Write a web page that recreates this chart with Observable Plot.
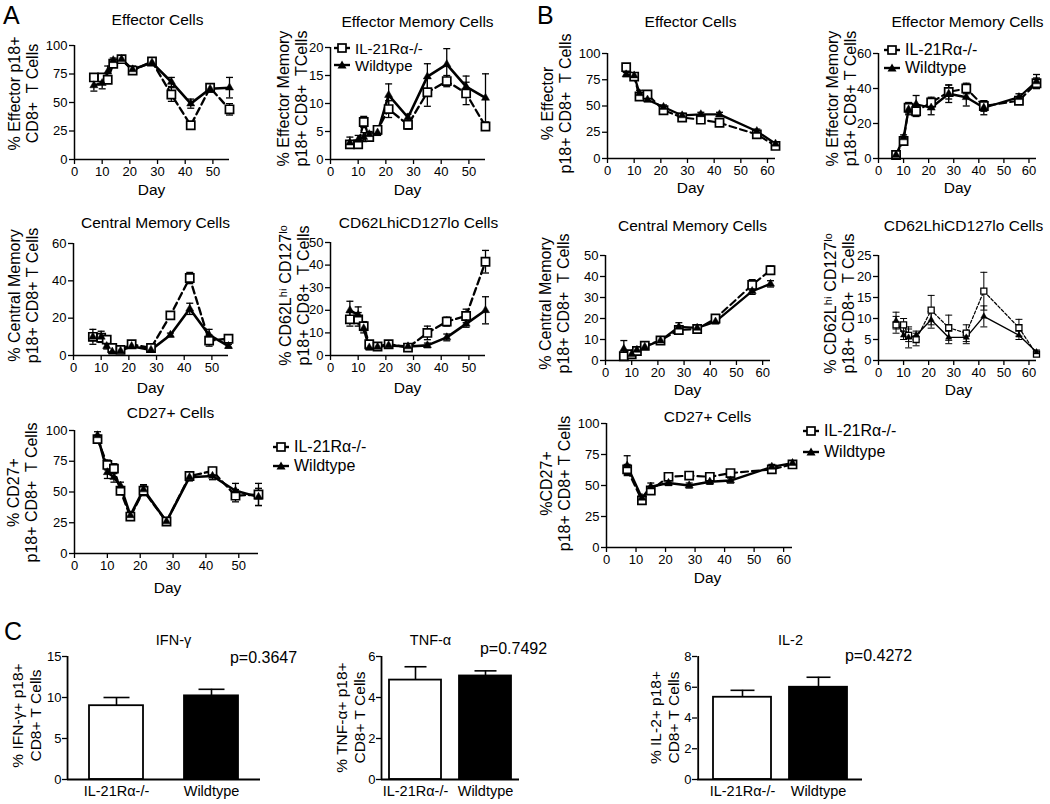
<!DOCTYPE html>
<html><head><meta charset="utf-8">
<script src="https://cdn.jsdelivr.net/npm/d3@7"></script>
<script src="https://cdn.jsdelivr.net/npm/@observablehq/plot@0.6"></script>
<style>
body{margin:0;background:#fff;}
#fig{position:relative;width:1050px;height:804px;font-family:"Liberation Sans",Arial,sans-serif;color:#000;overflow:hidden;background:#fff;}
.letter{position:absolute;font-size:25px;line-height:26px;}
.lrow{position:absolute;display:flex;align-items:center;white-space:nowrap;}
.lrow svg{margin-right:4px;}
</style></head><body><div id="fig"></div><script>
// ---------------- data ----------------
const seriesNames = ["IL-21Rα-/-", "Wildtype"];
const daysA = [7, 10, 12, 14, 17, 21, 28, 35, 42, 49, 56];
const daysB = [7, 10, 12, 15, 21, 28, 35, 42, 56, 63];
const daysB5 = [7, 12, 15, 21, 28, 35, 42, 56, 63];

// A: Effector
const a1IL = [72, 72, 70, 84, 88, 78, 86, 57, 30, 63, 44];
const a1ILerr = [3, 3, 3, 2, 2, 3, 2, 6, 2, 3, 5];
const a1WT = [65, 67, 77, 87, 88, 79, 85, 68, 49, 62, 63];
const a1WTerr = [5, 5, 5, 2, 2, 3, 2, 4, 4, 3, 9];
// A: Effector Memory
const a2IL = [2.7, 2.7, 6.7, 4, 5.3, 9, 6.2, 12, 14, 11.8, 5.9];
const a2ILerr = [0.6, 0.6, 1, 0.5, 0.6, 1.5, 0.8, 2.5, 1, 2, 0.7];
const a2WT = [3, 3.5, 4, 4.5, 4.8, 11.5, 7.5, 14.8, 17, 13, 11];
const a2WTerr = [1, 0.8, 0.8, 0.5, 0.5, 2, 0.6, 2.3, 2.8, 1.9, 4.3];
// A: Central Memory
const a3IL = [10, 9.5, 8.5, 4, 3, 6, 4, 21.5, 41.5, 8, 9];
const a3ILerr = [2, 2, 1.5, 1, 1, 1, 1, 2, 3, 3, 1];
const a3WT = [10, 10, 5, 2, 2.5, 5, 3, 11, 25, 11, 5];
const a3WTerr = [4, 3, 1.5, 1, 1, 1, 1, 1, 3, 3, 1];
// A: CD62Lhi CD127lo
const a4IL = [16, 16, 13, 5, 4, 5, 3.5, 10, 15, 17.5, 41.5];
const a4ILerr = [3, 3, 2, 1, 1, 1, 1, 3, 2, 3, 5];
const a4WT = [20, 18, 12, 3.5, 3.8, 4.5, 4, 4.5, 8, 14, 20];
const a4WTerr = [4, 3.5, 2, 1, 1, 1, 1, 1, 1.5, 1.5, 6];
// A: CD27+
const a5IL = [93, 72, 69, 51, 30, 51, 26, 63, 67, 47, 48];
const a5ILerr = [3, 4, 4, 3, 3, 4, 2, 3, 3, 5, 9];
const a5WT = [96, 66, 62, 55, 31, 52, 26, 62, 63, 51, 46];
const a5WTerr = [3, 5, 4, 3, 3, 4, 2, 3, 3, 6, 7];

// B: Effector
const b1IL = [87, 78, 59, 61, 46, 39, 37, 34, 23, 12];
const b1ILerr = [2, 2, 3, 2, 2, 2, 2, 2, 2, 1.5];
const b1WT = [80, 79, 62, 56, 49, 41, 42, 42, 26, 14];
const b1WTerr = [2, 2, 3, 2, 2, 2, 2, 2, 2, 1.5];
// B: Effector Memory
const b2IL = [2, 10, 29, 27, 32, 38, 40, 30, 33, 43];
const b2ILerr = [1, 1.5, 3, 3, 3, 4, 3, 3, 2, 3];
const b2WT = [2, 12, 28, 31, 29, 37, 35, 29, 35, 44];
const b2WTerr = [1, 1.5, 3, 5, 4, 5, 5, 4, 2, 4];
// B: Central Memory
const b3IL = [2, 3, 4.5, 7, 9.5, 14.5, 15, 20, 36, 43];
const b3ILerr = [1, 1, 1, 1, 1, 1.5, 1, 1, 2.5, 2];
const b3WT = [5.5, 3, 5, 6.5, 9.5, 16, 15.5, 18.5, 33, 36.5];
const b3WTerr = [4, 1, 1, 1, 1, 2, 1, 1, 1.5, 1.5];
// B: CD62Lhi CD127lo
const b4IL = [8.5, 8.5, 6, 5, 12, 7.8, 6.5, 16.5, 7.8, 1.5];
const b4ILerr = [2, 1.5, 1.5, 1.5, 3.5, 3, 2, 4.5, 2, 0.5];
const b4WT = [9.5, 6, 5.5, 6, 9.7, 5.5, 5.5, 10.5, 6, 2];
const b4WTerr = [2, 1, 2.5, 1, 2, 1.5, 1.5, 2.5, 1, 0.5];
// B: CD27+
const b5IL = [63, 38, 46, 57, 58, 57, 60, 63, 67];
const b5ILerr = [4, 2, 3, 2, 2, 2, 2, 2, 2];
const b5WT = [66, 40, 49, 52, 50, 53, 54, 65, 68];
const b5WTerr = [8, 2, 3, 2, 2, 2, 2, 2, 2];

// C: cytokine bars
const barGroups = ["IL-21Rα-/-", "Wildtype"];
const ifnMean = [9.0, 10.2], ifnErr = [1.0, 0.8];
const tnfMean = [4.85, 5.05], tnfErr = [0.65, 0.25];
const il2Mean = [5.35, 6.0], il2Err = [0.45, 0.65];
const pValues = ["p=0.3647", "p=0.7492", "p=0.4272"];

// ---------------- drawing ----------------
const fig = document.getElementById("fig");
const FONT = '"Liberation Sans", Arial, sans-serif';
const cap = {draw(ctx, size) { const w = Math.sqrt(size / Math.PI); ctx.moveTo(-w, 0); ctx.lineTo(w, 0); }};

function place(el, left, top) {
  el.style.position = "absolute";
  el.style.left = left + "px";
  el.style.top = top + "px";
  fig.appendChild(el);
}

function linePanel(c) {
  const ml = 80, mr = 14, mt = 48, mb = 48;
  const fw = c.x1 - c.x0, fh = c.yBot - c.yTop;
  const rows = (vals, errs, s) => c.days.map((d, i) => ({day: d, v: vals[i], e: errs[i], s}));
  const il = rows(c.il, c.ilErr, seriesNames[0]), wt = rows(c.wt, c.wtErr, seriesNames[1]);
  const all = il.concat(wt);
  const cx = (c.x0 + c.x1) / 2, cy = (c.yTop + c.yBot) / 2;
  const lw = c.lw ?? 2.6;
  const ew = c.ew ?? 1.3;
  const p = Plot.plot({
    width: ml + fw + mr, height: mt + fh + mb,
    marginLeft: ml, marginRight: mr, marginTop: mt, marginBottom: mb,
    style: {fontFamily: FONT, overflow: "visible", background: "transparent", color: "black"},
    x: {domain: c.xDomain, axis: null},
    y: {domain: c.yDomain, axis: null},
    marks: [
      Plot.ruleX(all, {x: "day", y1: d => d.v - d.e, y2: d => d.v + d.e, stroke: "black", strokeWidth: ew}),
      Plot.dot(all, {x: "day", y: d => d.v + d.e, symbol: cap, r: 3.5, stroke: "black", strokeWidth: ew, fill: "none"}),
      Plot.dot(all, {x: "day", y: d => d.v - d.e, symbol: cap, r: 3.5, stroke: "black", strokeWidth: ew, fill: "none"}),
      Plot.line(il, {x: "day", y: "v", stroke: "black", strokeWidth: lw * 0.9, strokeDasharray: c.dash ?? "7,4"}),
      Plot.line(wt, {x: "day", y: "v", stroke: "black", strokeWidth: lw}),
      Plot.dot(il, {x: "day", y: "v", symbol: "square", r: c.sq ?? 4.6, fill: "white", stroke: "black", strokeWidth: c.sqw ?? 1.7}),
      Plot.dot(wt, {x: "day", y: "v", symbol: "triangle", r: c.tri ?? 3, fill: "black", stroke: "black", strokeWidth: 0.5}),
      Plot.ruleX([c.xDomain[0]], {stroke: "black", strokeWidth: 1.5}),
      Plot.ruleY([c.yDomain[0]], {stroke: "black", strokeWidth: 1.5}),
      Plot.axisX({ticks: c.xTicks, tickSize: 5, tickPadding: 2, fontSize: 13, label: null, tickFormat: d => String(d), strokeWidth: 1.3}),
      Plot.axisY({ticks: c.yTicks, tickSize: 5, tickPadding: 2, fontSize: 13, label: null, tickFormat: d => String(d), strokeWidth: 1.3}),
      Plot.text([c.title], {text: d => d, frameAnchor: "top", dx: c.titleX - cx, dy: c.titleY - c.yTop, fontSize: 15.5, lineAnchor: "middle"}),
      Plot.text([c.ylabel], {text: d => d, frameAnchor: "left", rotate: -90, dx: c.ylabelX - c.x0, dy: c.ylabelY - cy, fontSize: 16, lineHeight: 1.12, textAnchor: "middle", lineAnchor: "middle"}),
      Plot.text(["Day"], {text: d => d, frameAnchor: "bottom", dx: (c.dayX ?? cx) - cx, dy: c.dayY - c.yBot, fontSize: 15.5, lineAnchor: "middle"})
    ]
  });
  place(p, c.x0 - ml, c.yTop - mt);
}

function barPanel(c) {
  const ml = 80, mr = 80, mt = 40, mb = 40;
  const fw = c.x1 - c.x0, fh = c.yBot - c.yTop;
  const data = barGroups.map((g, i) => ({g, v: c.mean[i], e: c.err[i], i}));
  const cx = (c.x0 + c.x1) / 2, cy = (c.yTop + c.yBot) / 2;
  // distance from the first band's centre back to the frame's left edge (band scale geometry)
  const step = fw / (barGroups.length - c.pi + 2 * c.po);
  const leftOff = step * (c.po + (1 - c.pi) / 2);
  const p = Plot.plot({
    width: ml + fw + mr, height: mt + fh + mb,
    marginLeft: ml, marginRight: mr, marginTop: mt, marginBottom: mb,
    style: {fontFamily: FONT, overflow: "visible", background: "transparent", color: "black"},
    x: {domain: barGroups, axis: null, paddingInner: c.pi, paddingOuter: c.po},
    y: {domain: c.yDomain, axis: null},
    color: {type: "identity"},
    marks: [
      Plot.ruleX(data, {x: "g", y1: "v", y2: d => d.v + d.e, stroke: "black", strokeWidth: 1.6}),
      Plot.dot(data, {x: "g", y: d => d.v + d.e, symbol: cap, r: c.capR ?? 13, stroke: "black", strokeWidth: 1.6, fill: "none"}),
      Plot.barY(data, {x: "g", y: "v", fill: d => d.i ? "black" : "white", stroke: "black", strokeWidth: 1.8}),
      Plot.ruleX([barGroups[0]], {x: d => d, dx: -leftOff, stroke: "black", strokeWidth: 1.8}),
      Plot.ruleY([c.yDomain[0]], {stroke: "black", strokeWidth: 1.8}),
      Plot.axisX({tickSize: 0, tickPadding: 6, fontSize: 14.5, label: null}),
      Plot.axisY({ticks: c.yTicks, tickSize: 5, tickPadding: 1, fontSize: 13, label: null, tickFormat: d => String(d), strokeWidth: 1.3}),
      Plot.text([c.title], {text: d => d, frameAnchor: "top", dx: c.titleX - cx, dy: c.titleY - c.yTop, fontSize: 14.5, lineAnchor: "middle"}),
      Plot.text([c.pv], {text: d => d, frameAnchor: "top-right", textAnchor: "middle", dx: c.pX - c.x1, dy: c.pY - c.yTop, fontSize: 16, lineAnchor: "middle"}),
      Plot.text([c.ylabel], {text: d => d, frameAnchor: "left", rotate: -90, dx: c.ylabelX - c.x0, dy: c.ylabelY - cy, fontSize: 15.5, lineHeight: 1.12, textAnchor: "middle", lineAnchor: "middle"})
    ]
  });
  place(p, c.x0 - ml, c.yTop - mt);
}

function legendSymbol(kind) {
  const ns = "http://www.w3.org/2000/svg";
  const s = document.createElementNS(ns, "svg");
  s.setAttribute("width", 18); s.setAttribute("height", 12);
  const l = document.createElementNS(ns, "line");
  l.setAttribute("x1", 1); l.setAttribute("x2", 17); l.setAttribute("y1", 6); l.setAttribute("y2", 6);
  l.setAttribute("stroke", "black"); l.setAttribute("stroke-width", 2.4);
  s.appendChild(l);
  if (kind === 0) {
    const r = document.createElementNS(ns, "rect");
    r.setAttribute("x", 5); r.setAttribute("y", 2); r.setAttribute("width", 8); r.setAttribute("height", 8);
    r.setAttribute("fill", "white"); r.setAttribute("stroke", "black"); r.setAttribute("stroke-width", 1.7);
    s.appendChild(r);
  } else {
    const t = document.createElementNS(ns, "path");
    t.setAttribute("d", "M9,1.5L13.5,9.5L4.5,9.5Z");
    t.setAttribute("fill", "black");
    s.appendChild(t);
  }
  return s;
}

function legend(x, y, gap, fs) {
  seriesNames.forEach((name, i) => {
    const row = document.createElement("div");
    row.className = "lrow";
    row.style.fontSize = fs + "px";
    row.style.height = "20px";
    row.appendChild(legendSymbol(i));
    const t = document.createElement("span");
    t.textContent = name;
    row.appendChild(t);
    place(row, x - 9, y + i * gap - 10);
  });
}

function letter(txt, x, y) {
  const d = document.createElement("div");
  d.className = "letter";
  d.textContent = txt;
  place(d, x, y);
}

const ticks10_50 = [0, 10, 20, 30, 40, 50];
const ticks10_60 = [0, 10, 20, 30, 40, 50, 60];

// Panel A
linePanel({x0: 74, x1: 229, yTop: 45, yBot: 159, xDomain: [0, 56], yDomain: [0, 100], xTicks: ticks10_50, yTicks: [0, 25, 50, 75, 100],
  days: daysA, il: a1IL, ilErr: a1ILerr, wt: a1WT, wtErr: a1WTerr,
  title: "Effector Cells", titleX: 157, titleY: 20, ylabel: "% Effector p18+\nCD8+  T Cells", ylabelX: 23, ylabelY: 93, dayX: 151, dayY: 190});
linePanel({x0: 330, x1: 485, yTop: 47, yBot: 159, xDomain: [0, 56], yDomain: [0, 20], xTicks: ticks10_50, yTicks: [0, 5, 10, 15, 20],
  days: daysA, il: a2IL, ilErr: a2ILerr, wt: a2WT, wtErr: a2WTerr,
  title: "Effector Memory Cells", titleX: 417, titleY: 22, ylabel: "% Effector Memory\np18+ CD8+  TCells", ylabelX: 292, ylabelY: 98, dayX: 407, dayY: 190});
linePanel({x0: 73, x1: 228, yTop: 243, yBot: 355, xDomain: [0, 56], yDomain: [0, 60], xTicks: ticks10_50, yTicks: [0, 20, 40, 60],
  days: daysA, il: a3IL, ilErr: a3ILerr, wt: a3WT, wtErr: a3WTerr,
  title: "Central Memory Cells", titleX: 155, titleY: 223, ylabel: "% Central Memory\np18+ CD8+ T Cells", ylabelX: 23, ylabelY: 295, dayX: 150, dayY: 388});
linePanel({x0: 330, x1: 485, yTop: 242, yBot: 355, xDomain: [0, 56], yDomain: [0, 50], xTicks: ticks10_50, yTicks: [0, 10, 20, 30, 40, 50],
  days: daysA, il: a4IL, ilErr: a4ILerr, wt: a4WT, wtErr: a4WTerr,
  title: "CD62LhiCD127lo Cells", titleX: 418, titleY: 223, ylabel: "% CD62Lʰⁱ CD127ˡᵒ\np18+ CD8+  T Cells", ylabelX: 294, ylabelY: 295, dayX: 407, dayY: 388});
linePanel({x0: 74, x1: 258, yTop: 430, yBot: 553, xDomain: [0, 56], yDomain: [0, 100], xTicks: ticks10_50, yTicks: [0, 25, 50, 75, 100],
  days: daysA, il: a5IL, ilErr: a5ILerr, wt: a5WT, wtErr: a5WTerr,
  title: "CD27+ Cells", titleX: 170, titleY: 413, ylabel: "% CD27+\np18+ CD8+  T Cells", ylabelX: 22, ylabelY: 492, dayX: 167, dayY: 588});

// Panel B
linePanel({x0: 607, x1: 775, yTop: 53, yBot: 158, xDomain: [0, 63], yDomain: [0, 100], xTicks: ticks10_60, yTicks: [0, 25, 50, 75, 100],
  days: daysB, il: b1IL, ilErr: b1ILerr, wt: b1WT, wtErr: b1WTerr, lw: 2.3,
  title: "Effector Cells", titleX: 690, titleY: 22, ylabel: "% Effector\np18+ CD8+  T Cells", ylabelX: 556, ylabelY: 103, dayX: 690, dayY: 188});
linePanel({x0: 878, x1: 1036, yTop: 53, yBot: 158, xDomain: [0, 63], yDomain: [0, 60], xTicks: ticks10_60, yTicks: [0, 20, 40, 60],
  days: daysB, il: b2IL, ilErr: b2ILerr, wt: b2WT, wtErr: b2WTerr, lw: 2.3,
  title: "Effector Memory Cells", titleX: 967, titleY: 22, ylabel: "% Effector Memory\np18+ CD8+ T Cells", ylabelX: 841, ylabelY: 98, dayX: 957, dayY: 188});
linePanel({x0: 605, x1: 770, yTop: 255, yBot: 360, xDomain: [0, 63], yDomain: [0, 50], xTicks: ticks10_60, yTicks: [0, 10, 20, 30, 40, 50],
  days: daysB, il: b3IL, ilErr: b3ILerr, wt: b3WT, wtErr: b3WTerr, lw: 2.3,
  title: "Central Memory Cells", titleX: 692, titleY: 226, ylabel: "% Central Memory\np18+ CD8+  T Cells", ylabelX: 554, ylabelY: 303, dayX: 687, dayY: 390});
linePanel({x0: 878, x1: 1036, yTop: 255, yBot: 360, xDomain: [0, 63], yDomain: [0, 25], xTicks: ticks10_60, yTicks: [0, 5, 10, 15, 20, 25],
  days: daysB, il: b4IL, ilErr: b4ILerr, wt: b4WT, wtErr: b4WTerr, lw: 1.4, dash: "3,2", sq: 3.4, sqw: 1.3, tri: 2.3, ew: 1,
  title: "CD62LhiCD127lo Cells", titleX: 963, titleY: 226, ylabel: "% CD62Lʰⁱ CD127ˡᵒ\np18+ CD8+  T Cells", ylabelX: 839, ylabelY: 303, dayX: 958, dayY: 390});
linePanel({x0: 606, x1: 792, yTop: 423, yBot: 547, xDomain: [0, 63], yDomain: [0, 100], xTicks: ticks10_60, yTicks: [0, 25, 50, 75, 100],
  days: daysB5, il: b5IL, ilErr: b5ILerr, wt: b5WT, wtErr: b5WTerr, lw: 2.4,
  title: "CD27+ Cells", titleX: 707, titleY: 417, ylabel: "%CD27+\np18+ CD8+ T Cells", ylabelX: 555, ylabelY: 483, dayX: 707, dayY: 578});

// Panel C
barPanel({x0: 67, x1: 260, yTop: 656, yBot: 779, yDomain: [0, 15], yTicks: [0, 5, 10, 15], pi: 0.43, po: 0.23,
  mean: ifnMean, err: ifnErr, title: "IFN-γ", titleX: 173, titleY: 640, pv: pValues[0], pX: 263, pY: 657,
  ylabel: "% IFN-γ+ p18+\nCD8+ T Cells", ylabelX: 26, ylabelY: 715});
barPanel({x0: 381, x1: 519, yTop: 656, yBot: 779, yDomain: [0, 6], yTicks: [0, 2, 4, 6], pi: 0.257, po: 0.114, capR: 11,
  mean: tnfMean, err: tnfErr, title: "TNF-α", titleX: 430, titleY: 640, pv: pValues[1], pX: 513, pY: 648,
  ylabel: "% TNF-α+ p18+\nCD8+ T Cells", ylabelX: 350, ylabelY: 717});
barPanel({x0: 697, x1: 862, yTop: 656, yBot: 779, yDomain: [0, 8], yTicks: [0, 2, 4, 6, 8], pi: 0.24, po: 0.2, capR: 12,
  mean: il2Mean, err: il2Err, title: "IL-2", titleX: 790, titleY: 640, pv: pValues[2], pX: 878, pY: 655,
  ylabel: "% IL-2+ p18+\nCD8+ T Cells", ylabelX: 664, ylabelY: 717});

// legends
legend(342, 48, 17, 15);
legend(892, 50, 18, 16);
legend(281, 447, 19, 16);
legend(811, 431, 21, 16);

// panel letters
letter("A", 3, 2);
letter("B", 537, 2);
letter("C", 4, 618);
</script></body></html>
